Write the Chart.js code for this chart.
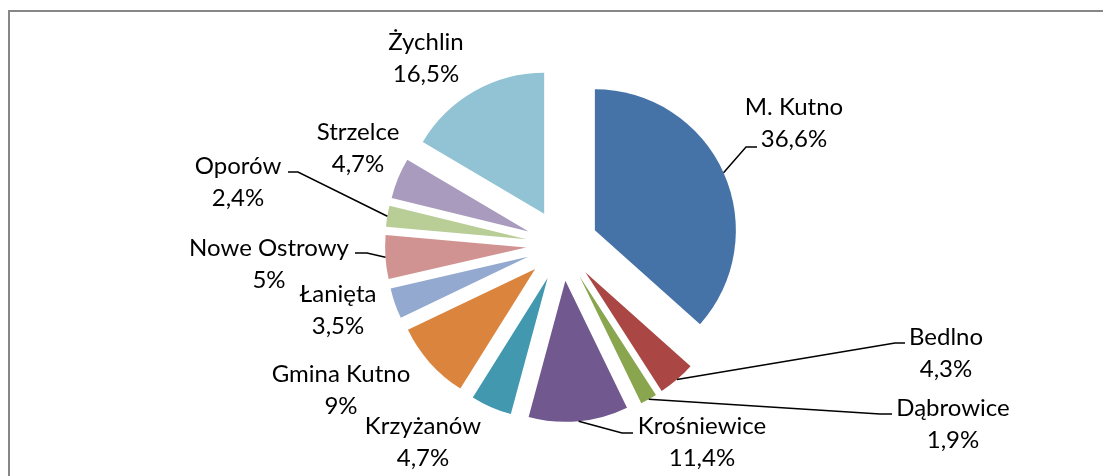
<!DOCTYPE html>
<html>
<head>
<meta charset="utf-8">
<script src="https://cdn.jsdelivr.net/npm/chart.js@4"></script>
<style>
    html, body { margin: 0; padding: 0; background: #fff; }
    #wrap { position: relative; width: 1103px; height: 476px; overflow: hidden; }
    #frame {
        position: absolute; left: 8px; top: 10px; width: 1200px; height: 600px;
        border-top: 2px solid #878787; border-left: 2px solid #878787;
    }
    #pieChart { position: absolute; left: 0; top: 0; }
</style>
</head>
<body>
<div id="wrap">
    <div id="frame"></div>
    <canvas id="pieChart" width="1103" height="476"></canvas>
</div>
<script>
// Share of each gmina (percent)
const gminy = ["M. Kutno", "Bedlno", "Dąbrowice", "Krośniewice", "Krzyżanów", "Gmina Kutno",
    "Łanięta", "Nowe Ostrowy", "Oporów", "Strzelce", "Żychlin"];
const shares = [36.6, 4.3, 1.9, 11.4, 4.7, 9, 3.5, 5, 2.4, 4.7, 16.5];
const shareLabels = ["36,6%", "4,3%", "1,9%", "11,4%", "4,7%", "9%", "3,5%", "5%", "2,4%", "4,7%", "16,5%"];

const colors = ["#4572A7", "#AA4643", "#89A54E", "#71588F", "#4198AF", "#DB843D",
    "#93A9CF", "#D19392", "#B9CD96", "#A99BBD", "#91C3D5"];

// label placement, relative to the pie centre
const labelPos = [[232, -122], [384, 108], [391, 179], [140, 197], [-139, 197], [-221, 145],
    [-224, 65], [-293, 19], [-324, -63], [-204, -97], [-136, -187]];
// leader elbow (relative to pie centre) and length of the short horizontal end
const leaders = [[184, -98, 11], [333, 98, 10], [318, 169, 12], [60, 188, 11], null, null,
    null, [-195, 8, -12], [-264, -73, -10], null, null];

const RADIUS = 141;
const EXPLODE = 36;       // px every slice is pulled out
const FONT = '24px Lato';

// chart.js pushes an arc out by offset/4, but also grows its radius by
// offset/4 * (1 - sin(angle)) and trims its arc length by that / PI.
// Undo both so every slice keeps the same radius and its true angle.
const pieFix = {
    id: 'pieFix',
    afterDatasetUpdate(chart, args) {
        args.meta.data.forEach(arc => {
            const fix = 1 - Math.sin(Math.min(Math.PI, arc.circumference));
            const grow = EXPLODE * fix;
            arc.outerRadius = RADIUS - grow;
            const extra = grow / Math.PI / RADIUS;
            arc.startAngle -= extra / 2;
            arc.endAngle += extra / 2;
        });
    }
};

const pieLabels = {
    id: 'pieLabels',
    afterDatasetsDraw(chart) {
        const ctx = chart.ctx;
        const arcs = chart.getDatasetMeta(0).data;
        ctx.save();
        ctx.font = FONT;
        ctx.fillStyle = '#000';
        ctx.strokeStyle = '#000';
        ctx.lineWidth = 1.5;
        ctx.textAlign = 'center';
        ctx.textBaseline = 'alphabetic';
        arcs.forEach((arc, i) => {
            const cx = arc.x, cy = arc.y;
            const mid = (arc.startAngle + arc.endAngle) / 2;
            const r = EXPLODE + RADIUS;
            if (leaders[i]) {
                const [ex, ey, len] = leaders[i];
                ctx.beginPath();
                ctx.moveTo(cx + Math.cos(mid) * r, cy + Math.sin(mid) * r);
                ctx.lineTo(cx + ex, cy + ey);
                ctx.lineTo(cx + ex + len, cy + ey);
                ctx.stroke();
            }
            const lx = cx + labelPos[i][0];
            const ly = cy + labelPos[i][1];
            ctx.fillText(gminy[i], lx, ly - 8);
            ctx.fillText(shareLabels[i], lx, ly + 24);
        });
        ctx.restore();
    }
};

const ctx = document.getElementById('pieChart').getContext('2d');
new Chart(ctx, {
    type: 'pie',
    data: {
        labels: gminy,
        datasets: [{
            data: shares,
            backgroundColor: colors,
            borderWidth: 0,
            offset: EXPLODE * 4,
            hoverOffset: 0
        }]
    },
    options: {
        responsive: false,
        animation: false,
        radius: RADIUS,
        layout: { padding: { left: 21, right: 0, top: 14, bottom: 0 } },
        plugins: {
            legend: { display: false },
            tooltip: { enabled: false }
        }
    },
    plugins: [pieFix, pieLabels]
});
</script>
</body>
</html>
